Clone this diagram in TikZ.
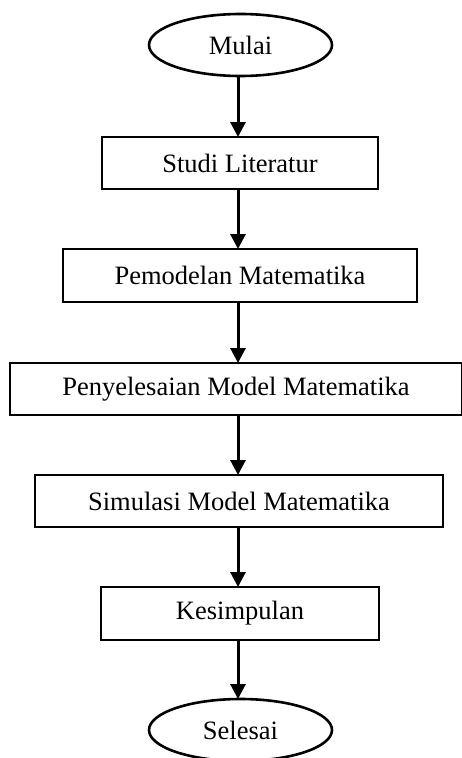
\documentclass[tikz,border=0pt]{standalone}
\usepackage{fontspec}
\setmainfont{Liberation Serif}
\usetikzlibrary{arrows.meta,shapes.geometric}
\begin{document}
\begin{tikzpicture}[x=1pt,y=-1pt,
  every node/.style={font=\fontsize{26.5}{30}\selectfont, inner sep=0pt, outer sep=0pt},
  procbox/.style={draw, line width=2.6pt, rectangle, minimum height=#1},
  procbox/.default=52pt,
  terminal/.style={draw, line width=2.6pt, ellipse, minimum width=183pt, minimum height=62pt},
  arr/.style={line width=3pt, -{Triangle[width=15pt,length=15pt]}}]
\useasboundingbox (0,0) rectangle (462,758);
\coordinate (ax) at (238,0);
\node[terminal] (mulai) at (240.5,45) {\raisebox{-5pt}{Mulai}};
\node[procbox, minimum width=276pt] (studi) at (240,163) {Studi Literatur};
\node[procbox=53pt, minimum width=354pt] (pemodelan) at (240,275.5) {Pemodelan Matematika};
\node[procbox=52pt, minimum width=452pt] (penyelesaian) at (236,389) {Penyelesaian Model Matematika};
\node[procbox, minimum width=408pt] (simulasi) at (239,501) {Simulasi Model Matematika};
\node[procbox=53pt, minimum width=278pt] (kesimpulan) at (240,613.5) {Kesimpulan};
\node[terminal] (selesai) at (240.5,730) {\raisebox{-5pt}{Selesai}};
\draw[arr] (mulai.south -| ax) -- (studi.north -| ax);
\draw[arr] (studi.south -| ax) -- (pemodelan.north -| ax);
\draw[arr] (pemodelan.south -| ax) -- (penyelesaian.north -| ax);
\draw[arr] (penyelesaian.south -| ax) -- (simulasi.north -| ax);
\draw[arr] (simulasi.south -| ax) -- (kesimpulan.north -| ax);
\draw[arr] (kesimpulan.south -| ax) -- (selesai.north -| ax);
\end{tikzpicture}
\end{document}
